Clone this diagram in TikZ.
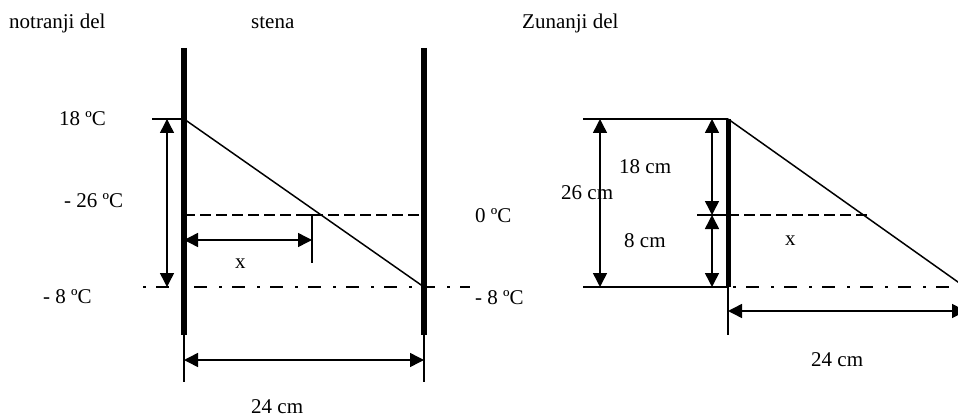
\documentclass[tikz,border=0pt]{standalone}
\usepackage{fontspec}
\setmainfont{Liberation Serif}
\usetikzlibrary{arrows.meta}
\begin{document}
\begin{tikzpicture}[x=1pt,y=-1pt,
  lbl/.style={anchor=base west,inner sep=0pt,font=\fontsize{21}{25}\selectfont},
  wall/.style={line width=6pt},
  thinline/.style={line width=1.5pt},
  dimarrow/.style={thinline,{Triangle[length=14pt,width=14pt]}-{Triangle[length=14pt,width=14pt]}},
  dashline/.style={thinline,dash pattern=on 11pt off 5pt},
  dashdot/.style={thinline,dash pattern=on 3pt off 10pt on 13pt off 12pt}]
\clip (0,0) rectangle (958,417);
% ---------- titles
\node[lbl] (t1) at (9,29) {notranji del};
\node[lbl] (t2) at (251,29) {stena};
\node[lbl] (t3) at (522,29) {Zunanji del};
% ---------- left diagram
\coordinate (LWt) at (184,48);
\coordinate (LWb) at (184,335);
\coordinate (LWe) at (184,382);
\coordinate (RWt) at (424,48);
\coordinate (RWb) at (424,335);
\coordinate (RWe) at (424,382);
\draw[wall] (LWt) -- (LWb);
\draw[wall] (RWt) -- (RWb);
\draw[thinline] (LWb) -- (LWe);
\draw[thinline] (RWb) -- (RWe);
\coordinate (T) at (184,119);
\coordinate (Ttick) at (152,119);
\coordinate (B) at (424,287);
\draw[thinline] (Ttick) -- (T);
\draw[thinline] (T) -- (B);
\coordinate (D0) at (184,215);
\coordinate (D1) at (424,215);
\draw[dashline] (D0) -- (D1);
\coordinate (X1) at (312,215);
\coordinate (X1b) at (312,263);
\coordinate (X1l) at (306,215);
\coordinate (X1r) at (318,215);
\draw[thinline] (X1) -- (X1b);
\draw[thinline] (X1l) -- (X1r);
\coordinate (XA0) at (184,240);
\coordinate (XA1) at (312,240);
\draw[dimarrow] (XA0) -- (XA1);
\coordinate (VA0) at (167,119);
\coordinate (VA1) at (167,287);
\draw[dimarrow] (VA0) -- (VA1);
\coordinate (DD0) at (143,287);
\coordinate (DD1) at (470,287);
\draw[dashdot] (DD0) -- (DD1);
\coordinate (BA0) at (184,360);
\coordinate (BA1) at (424,360);
\draw[dimarrow] (BA0) -- (BA1);
\node[lbl] (l18) at (59,125) {18 ºC};
\node[lbl] (l26) at (64,207) {- 26 ºC};
\node[lbl] (lm8) at (43,303) {- 8 ºC};
\node[lbl] (l0) at (475,222) {0 ºC};
\node[lbl] (rm8) at (475,304) {- 8 ºC};
\node[lbl] (lx) at (235,268) {x};
\node[lbl] (l24) at (251,413) {24 cm};
% ---------- right diagram
\coordinate (W2t) at (728,119);
\coordinate (W2b) at (728,287);
\coordinate (W2e) at (728,335);
\draw[line width=5pt] (W2t) -- (W2b);
\draw[thinline] (W2b) -- (W2e);
\coordinate (TL) at (583,119);
\coordinate (BL) at (583,287);
\draw[thinline] (TL) -- (W2t);
\draw[thinline] (BL) -- (W2b);
\coordinate (E2) at (965,287);
\draw[thinline] (W2t) -- (E2);
\coordinate (M0) at (697,215);
\coordinate (M1) at (728,215);
\coordinate (M2) at (872,215);
\draw[thinline] (M0) -- (M1);
\draw[dashline] (M1) -- (M2);
\coordinate (A0) at (712,119);
\coordinate (A1) at (712,215);
\coordinate (A2) at (712,287);
\draw[dimarrow] (A0) -- (A1);
\draw[dimarrow] (A1) -- (A2);
\coordinate (G0) at (600,119);
\coordinate (G1) at (600,287);
\draw[dimarrow] (G0) -- (G1);
\coordinate (DR0) at (733,287);
\draw[dashdot] (DR0) -- (E2);
\coordinate (H0) at (728,311);
\coordinate (H1) at (966,311);
\draw[dimarrow] (H0) -- (H1);
\node[lbl] (r18) at (619,173) {18 cm};
\node[lbl] (r8) at (624,247) {8 cm};
\node[lbl] (r26) at (561,199) {26 cm};
\node[lbl] (rx) at (785,245) {x};
\node[lbl] (r24) at (811,366) {24 cm};
\end{tikzpicture}
\end{document}
